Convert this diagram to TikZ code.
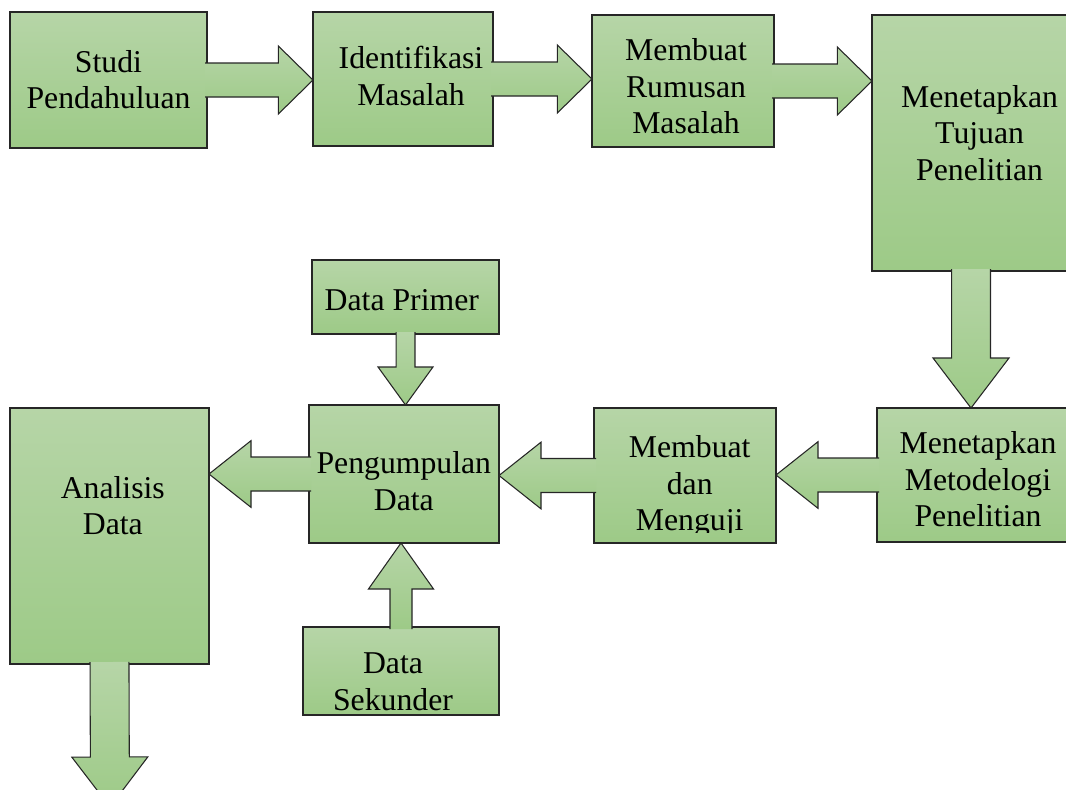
\documentclass[tikz,border=0pt]{standalone}
\usepackage{fontspec}
\setmainfont{Liberation Serif}
\usetikzlibrary{calc,fit}
\definecolor{boxtop}{RGB}{182,213,167}
\definecolor{boxbottom}{RGB}{157,202,135}

\begin{document}
\begin{tikzpicture}[
    x=0.75pt, y=-0.75pt,
    box/.style={draw=black!85, line width=0.8pt, top color=boxtop, bottom color=boxbottom,
        inner sep=0pt, outer sep=0pt},
    txt/.style={align=center, inner sep=0pt, font=\fontsize{23.8}{27.5}\selectfont},
    blockarrow/.style n args={3}{draw=black!85, line width=0.8pt, line join=miter,
        top color=boxtop, bottom color=boxbottom,
        to path={
            ($(\tikztostart)!-1.5pt!(\tikztotarget)!#1!90:(\tikztotarget)$)
            -- ($(\tikztotarget)!#3!(\tikztostart)!#1!-90:(\tikztostart)$)
            -- ($(\tikztotarget)!#3!(\tikztostart)!#2!-90:(\tikztostart)$)
            -- (\tikztotarget)
            -- ($(\tikztotarget)!#3!(\tikztostart)!#2!90:(\tikztostart)$)
            -- ($(\tikztotarget)!#3!(\tikztostart)!#1!90:(\tikztostart)$)
            -- ($(\tikztostart)!-1.5pt!(\tikztotarget)!#1!-90:(\tikztotarget)$)
        }}
]

    \useasboundingbox (0,0) rectangle (1066,789);
    \clip (0,0) rectangle (1066,789);

    % ==========================================
    % BOXES
    % ==========================================
    \node[box, fit={(10,12) (207,148)}]   (studi)    {};
    \node[box, fit={(313,12) (493,146)}]  (ident)    {};
    \node[box, fit={(592,15) (774,147)}]  (rumusan)  {};
    \node[box, fit={(872,15) (1070,271)}] (tujuan)   {};
    \node[box, fit={(877,408) (1080,542)}] (metode)  {};
    \node[box, fit={(594,408) (776,543)}] (uji)      {};
    \node[box, fit={(309,405) (499,543)}] (kumpul)   {};
    \node[box, fit={(312,260) (499,334)}] (primer)   {};
    \node[box, fit={(303,627) (499,715)}] (sekunder) {};
    \node[box, fit={(10,408) (209,664)}]  (analisis) {};
    \coordinate (analisis-end) at (110,807);

    % ==========================================
    % BLOCK ARROWS (shaft, head, head length)
    % ==========================================
    \draw[blockarrow={12.75pt}{25.5pt}{26pt}] (studi.east)   to (studi.east -| ident.west);
    \draw[blockarrow={12.75pt}{25.5pt}{26pt}] (ident.east)   to (ident.east -| rumusan.west);
    \draw[blockarrow={12.75pt}{25.5pt}{26pt}] (rumusan.east) to (rumusan.east -| tujuan.west);
    \draw[blockarrow={14.6pt}{28.5pt}{37.5pt}]   (tujuan.south) to (tujuan.south |- metode.north);
    \draw[blockarrow={12.75pt}{25pt}{31.5pt}]    (metode.west)  to (metode.west -| uji.east);
    \draw[blockarrow={12.75pt}{25pt}{31.5pt}]    (uji.west)     to (uji.west -| kumpul.east);
    \draw[blockarrow={12.75pt}{25pt}{31.5pt}]    (kumpul.west)  to (kumpul.west -| analisis.east);
    \draw[blockarrow={7.1pt}{20.6pt}{28.5pt}]    (primer.south) to (primer.south |- kumpul.north);
    \draw[blockarrow={8.25pt}{24.4pt}{34.5pt}]   (sekunder.north) to (sekunder.north |- kumpul.south);
    \draw[blockarrow={14.6pt}{28.5pt}{37.5pt}]   (analisis.south) to (analisis-end);

    % ==========================================
    % TEXTS
    % ==========================================
    \node[txt] (studi-t)    at (108.5,79.5) {Studi\\Pendahuluan};
    \node[txt] (ident-t)    at (411,76)     {Identifikasi\\Masalah};
    \node[txt] (rumusan-t)  at (686,86.3)   {Membuat\\Rumusan\\Masalah};
    \node[txt] (tujuan-t)   at (979.6,133)  {Menetapkan\\Tujuan\\Penelitian};
    \node[txt] (metode-t)   at (978,479.2)  {Menetapkan\\Metodelogi\\Penelitian};
    \node[txt] (kumpul-t)   at (403.8,481)  {Pengumpulan\\Data};
    \node[txt] (primer-t)   at (401.8,300.5) {Data Primer};
    \node[txt] (sekunder-t) at (393,682)    {Data\\Sekunder};
    \node[txt] (analisis-t) at (112.8,505.5) {Analisis\\Data};
    \begin{scope}
        \clip (uji.north west) rectangle ($(uji.south east)+(0,-11)$);
        \node[txt] (uji-t) at (689.7,486.5) {Membuat\\dan\\Menguji};
    \end{scope}

\end{tikzpicture}
\end{document}
